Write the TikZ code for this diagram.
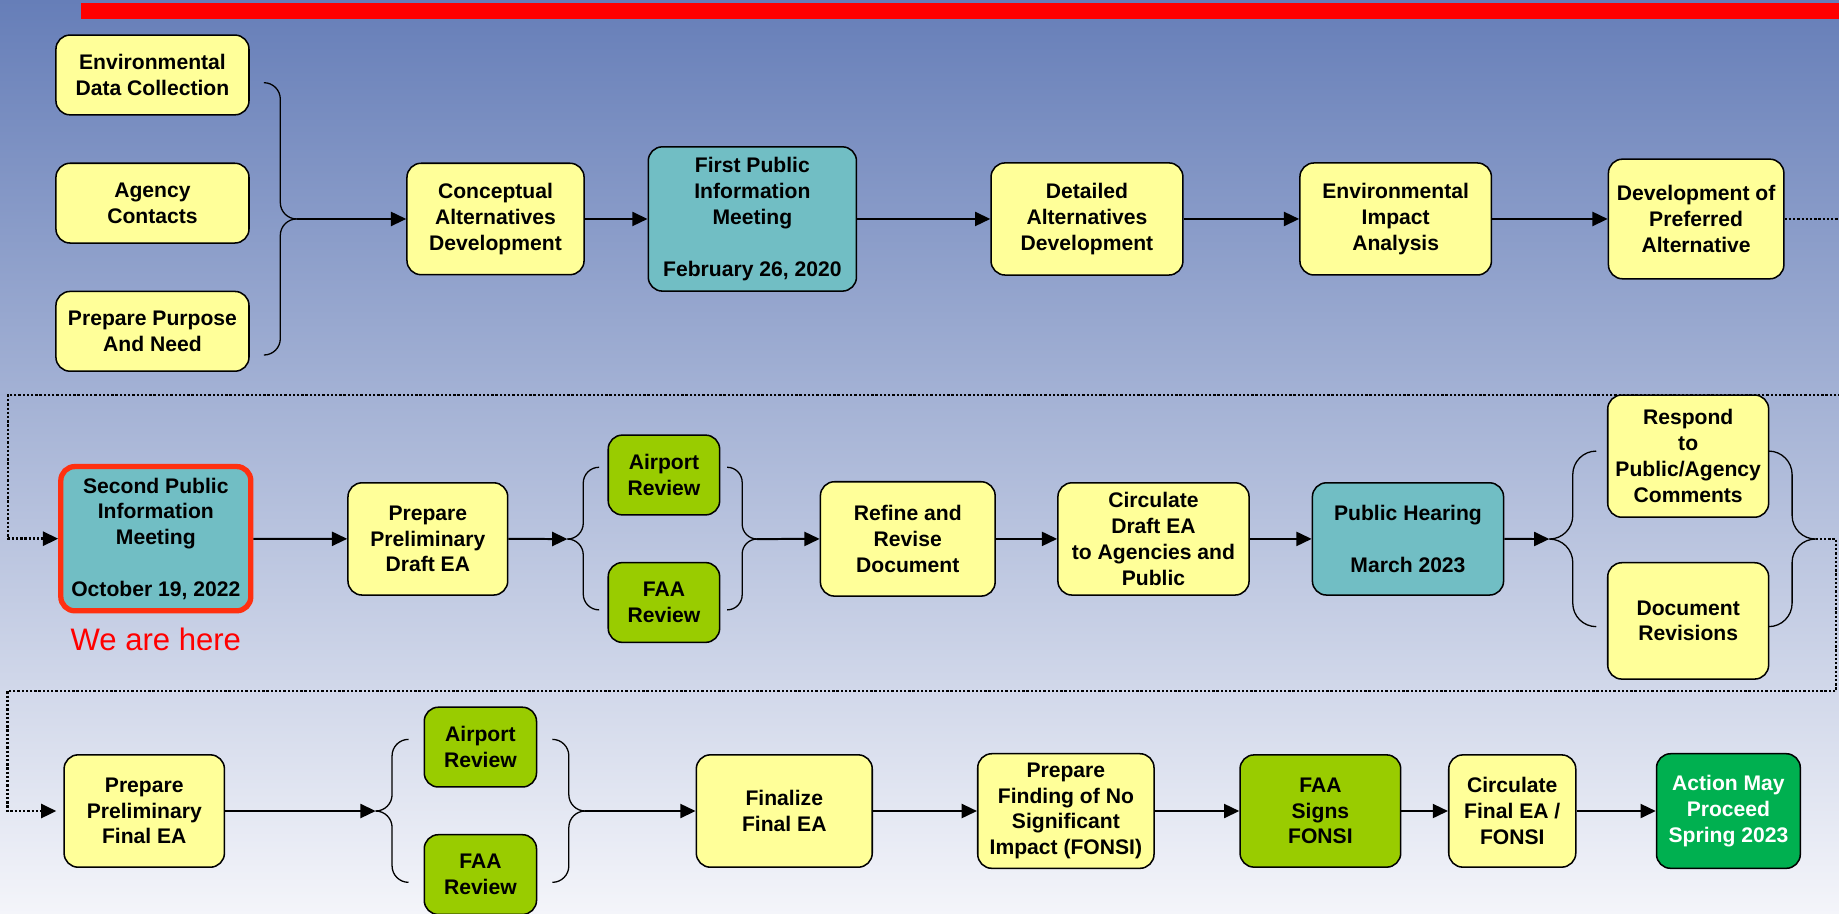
\documentclass[tikz,border=0pt]{standalone}
\usepackage{fontspec}
\setmainfont{Liberation Sans}
\usepackage{tikz}
\usetikzlibrary{positioning}
\usetikzlibrary{arrows.meta}
\usepackage{xcolor}
\definecolor{bgtop}{RGB}{102,126,184}
\definecolor{bgbottom}{RGB}{244,245,250}
\definecolor{stepyellow}{RGB}{255,255,153}
\definecolor{meetteal}{RGB}{113,190,196}
\definecolor{reviewgreen}{RGB}{153,204,0}
\definecolor{donegreen}{RGB}{0,176,80}
\definecolor{herered}{RGB}{255,48,16}
\tikzstyle{box_base}=[rounded corners=12pt, draw=black, line width=1.3pt, align=center, inner sep=2pt, font=\bfseries\fontsize{18}{22}\selectfont]
\tikzstyle{box_step}=[box_base, fill=stepyellow]
\tikzstyle{box_meet}=[box_base, fill=meetteal]
\tikzstyle{box_review}=[box_base, fill=reviewgreen, minimum width=95pt, minimum height=68pt]
\tikzstyle{box_done}=[box_base, fill=donegreen, text=white]
\tikzstyle{connect arrow}=[-{Triangle[length=13pt,width=12pt]}, line width=1.7pt, black]
\tikzstyle{connect dots}=[connect arrow, line width=2.2pt, dash pattern=on 2pt off 1.6pt]
\tikzstyle{brace line}=[line width=1.1pt, black]

\begin{document}
\begin{tikzpicture}[x=1pt, y=-1pt]

        \useasboundingbox (0,0) rectangle (1568,779.3);
        \clip (0,0) rectangle (1568,779.3);
        \shade[top color=bgtop, bottom color=bgbottom] (0,0) rectangle (1568,779.3);
        \fill[red] (69,2.8) rectangle (1600,16.2);

        % first row
        \node[box_step, minimum width=164.6pt, minimum height=68pt] (envdata) at (130,63.9) {Environmental\\Data Collection};
        \node[box_step, minimum width=164.6pt, minimum height=68pt, below=40pt of envdata] (agency) {Agency\\Contacts};
        \node[box_step, minimum width=164.6pt, minimum height=68pt, below=40pt of agency] (purpose) {Prepare Purpose\\And Need};
        \node[box_step, minimum width=151pt, minimum height=95pt] (concept) at (422.5,186.7) {Conceptual\\Alternatives\\Development};
        \node[box_meet, minimum width=177.5pt, minimum height=123pt] (firstmtg) at (641.5,186.7) {First Public\\Information\\Meeting\\[22pt]February 26, 2020};
        \node[box_step, minimum width=163.6pt, minimum height=95.6pt] (detailed) at (926.8,186.7) {Detailed\\Alternatives\\Development};
        \node[box_step, minimum width=163.3pt, minimum height=95.5pt] (eia) at (1190,186.7) {Environmental\\Impact\\Analysis};
        \node[box_step, minimum width=149.6pt, minimum height=102pt] (pref) at (1446.2,186.7) {Development of\\Preferred\\Alternative};

        % second row
        \node[box_meet, draw=herered, line width=4.5pt, minimum width=162pt, minimum height=123pt] (secondmtg) at (132.85,459.3) {Second Public\\Information\\Meeting\\[22pt]October 19, 2022};
        \node[below=12pt of secondmtg, inner sep=0pt, text=red, font=\fontsize{26.5}{30}\selectfont] (herenote) {We are here};
        \node[box_step, minimum width=136.2pt, minimum height=95.7pt] (draftea) at (364.8,459.5) {Prepare\\Preliminary\\Draft EA};
        \node[box_review] (airport1) at (566.1,405) {Airport\\Review};
        \node[box_review, below=39.4pt of airport1] (faa1) {FAA\\Review};
        \node[box_step, minimum width=149pt, minimum height=97.5pt] (refine) at (774,459.5) {Refine and\\Revise\\Document};
        \node[box_step, minimum width=163pt, minimum height=95.7pt] (circdraft) at (983.5,459.5) {Circulate\\Draft EA\\to Agencies and\\Public};
        \node[box_meet, minimum width=163pt, minimum height=95.7pt] (hearing) at (1200.5,459.5) {Public Hearing\\[22pt]March 2023};
        \node[box_step, minimum width=137.2pt, minimum height=104.2pt] (respond) at (1439.4,388.9) {Respond\\to\\Public/Agency\\Comments};
        \node[box_step, minimum width=137.2pt, minimum height=99.2pt, below=37.5pt of respond] (docrev) {Document\\Revisions};

        % third row
        \node[box_step, minimum width=136.7pt, minimum height=95.8pt] (prelimfinal) at (123,691.5) {Prepare\\Preliminary\\Final EA};
        \node[box_review, minimum width=95.7pt] (airport2) at (409.6,637) {Airport\\Review};
        \node[box_review, minimum width=95.7pt, below=39.4pt of airport2] (faa2) {FAA\\Review};
        \node[box_step, minimum width=150pt, minimum height=95.8pt] (finalize) at (668.7,691.5) {Finalize\\Final EA};
        \node[box_step, minimum width=150.3pt, minimum height=97.7pt] (fonsiprep) at (908.8,691.5) {Prepare\\Finding of No\\Significant\\Impact (FONSI)};
        \node[box_review, minimum width=137pt, minimum height=95.7pt] (faasigns) at (1125.8,691.5) {FAA\\Signs\\FONSI};
        \node[box_step, minimum width=108.3pt, minimum height=95.7pt] (circfinal) at (1289.4,691.5) {Circulate\\Final EA /\\FONSI};
        \node[box_done, minimum width=122.6pt, minimum height=97.7pt] (action) at (1473.7,691.5) {Action May\\Proceed\\Spring 2023};

        % brace tips
        \coordinate (jA) at (253,186.7);
        \coordinate (jB) at (483.8,459.6);
        \coordinate (jC) at (645.6,459.6);
        \coordinate (jD) at (1321,459.6);
        \coordinate (jE) at (1548,459.6);
        \coordinate (jF) at (320.3,691.5);
        \coordinate (jG) at (499,691.5);

        \begin{scope}[brace line]
            \draw[rounded corners=14pt] (225,70.5) -| (239,186.7) -- (jA);
            \draw[rounded corners=14pt] (225,302.7) -| (239,186.7) -- (jA);

            \draw[rounded corners=13.5pt] (510.8,398.4) -| (497.3,459.6) -- (jB);
            \draw[rounded corners=13.5pt] (510.8,520) -| (497.3,459.6) -- (jB);
            \draw[rounded corners=12.8pt] (620,398.4) -| (632.8,459.6) -- (jC);
            \draw[rounded corners=12.8pt] (620,520) -| (632.8,459.6) -- (jC);

            \draw[rounded corners=20pt] (1361,384.6) -| (1341,459.6) -- (jD);
            \draw[rounded corners=20pt] (1361,534.3) -| (1341,459.6) -- (jD);
            \draw[rounded corners=20pt] (1508,384.6) -| (1528,459.6) -- (jE);
            \draw[rounded corners=20pt] (1508,534.3) -| (1528,459.6) -- (jE);

            \draw[rounded corners=14pt] (348.3,630.4) -| (334.3,691.5) -- (jF);
            \draw[rounded corners=14pt] (348.3,752.3) -| (334.3,691.5) -- (jF);
            \draw[rounded corners=14pt] (471,630.4) -| (485,691.5) -- (jG);
            \draw[rounded corners=14pt] (471,752.3) -| (485,691.5) -- (jG);
        \end{scope}

        \begin{scope}[connect arrow]
            \draw (jA) -- (concept.west);
            \draw (concept) -- (firstmtg);
            \draw (firstmtg) -- (detailed);
            \draw (detailed) -- (eia);
            \draw (eia) -- (pref);

            \draw (secondmtg) -- (draftea);
            \draw (draftea.east) -- (jB);
            \draw (jC) -- (refine.west);
            \draw (refine) -- (circdraft);
            \draw (circdraft) -- (hearing);
            \draw (hearing.east) -- (jD);

            \draw (prelimfinal.east) -- (jF);
            \draw (jG) -- (finalize.west);
            \draw (finalize) -- (fonsiprep);
            \draw (fonsiprep) -- (faasigns);
            \draw (faasigns) -- (circfinal);
            \draw (circfinal) -- (action);
        \end{scope}

        % dotted links between rows
        \draw[connect dots] (pref.east) -- (1600,186.7) |- (6.7,336.8) |- (secondmtg.west);
        \draw[connect dots, shorten >=6pt] (jE) -| (1565.5,589) -- (6.5,589) |- (prelimfinal.west);

\end{tikzpicture}
\end{document}
